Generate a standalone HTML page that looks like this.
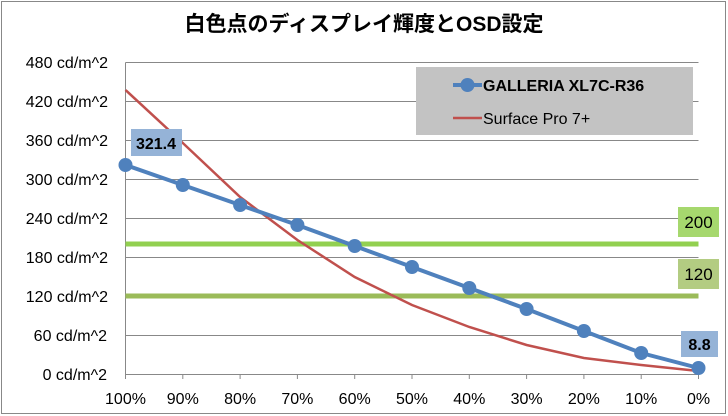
<!DOCTYPE html>
<html><head><meta charset="utf-8"><style>
body{margin:0;background:#fff}
svg{display:block}
text{font-family:"Liberation Sans","Noto Sans CJK JP",sans-serif}
</style></head><body>
<svg width="728" height="416" viewBox="0 0 728 416">
<rect x="1.5" y="1.5" width="724" height="412" fill="#fff" stroke="#888" stroke-width="1"/>
<text x="364" y="31" text-anchor="middle" font-size="21" font-weight="bold" fill="#000">白色点のディスプレイ輝度とOSD設定</text>
<g stroke="#888" stroke-width="1">
<line x1="125.5" y1="62.5" x2="698.5" y2="62.5"/>
<line x1="125.5" y1="101.5" x2="698.5" y2="101.5"/>
<line x1="125.5" y1="140.5" x2="698.5" y2="140.5"/>
<line x1="125.5" y1="179.5" x2="698.5" y2="179.5"/>
<line x1="125.5" y1="218.5" x2="698.5" y2="218.5"/>
<line x1="125.5" y1="257.5" x2="698.5" y2="257.5"/>
<line x1="125.5" y1="296.5" x2="698.5" y2="296.5"/>
<line x1="125.5" y1="335.5" x2="698.5" y2="335.5"/>
<line x1="125.5" y1="374.5" x2="698.5" y2="374.5"/>
<line x1="125.5" y1="62.5" x2="125.5" y2="379"/>
<line x1="182.8" y1="374" x2="182.8" y2="379"/><line x1="240.1" y1="374" x2="240.1" y2="379"/>
<line x1="297.4" y1="374" x2="297.4" y2="379"/><line x1="354.7" y1="374" x2="354.7" y2="379"/>
<line x1="412" y1="374" x2="412" y2="379"/><line x1="469.3" y1="374" x2="469.3" y2="379"/>
<line x1="526.6" y1="374" x2="526.6" y2="379"/><line x1="583.9" y1="374" x2="583.9" y2="379"/>
<line x1="641.2" y1="374" x2="641.2" y2="379"/><line x1="698.5" y1="374" x2="698.5" y2="379"/>
</g>
<g font-size="16" fill="#000" text-anchor="end">
<text x="108" y="68">480 cd/m^2</text><text x="108" y="107">420 cd/m^2</text>
<text x="108" y="146">360 cd/m^2</text><text x="108" y="185">300 cd/m^2</text>
<text x="108" y="224">240 cd/m^2</text><text x="108" y="263">180 cd/m^2</text>
<text x="108" y="302">120 cd/m^2</text><text x="107" y="341">60 cd/m^2</text>
<text x="107" y="380">0 cd/m^2</text>
</g>
<g font-size="16" fill="#000" text-anchor="middle">
<text x="125.5" y="404">100%</text><text x="182.8" y="404">90%</text><text x="240.1" y="404">80%</text>
<text x="297.4" y="404">70%</text><text x="354.7" y="404">60%</text><text x="412" y="404">50%</text>
<text x="469.3" y="404">40%</text><text x="526.6" y="404">30%</text><text x="583.9" y="404">20%</text>
<text x="641.2" y="404">10%</text><text x="698.5" y="404">0%</text>
</g>
<line x1="125.5" y1="244" x2="698.5" y2="244" stroke="#92d050" stroke-width="5"/>
<line x1="125.5" y1="296" x2="698.5" y2="296" stroke="#9bbb59" stroke-width="5"/>
<polyline fill="none" stroke="#c0504d" stroke-width="2.5" points="125.5,90 182.8,143 240.1,197 297.4,240 354.7,277 412,305 469.3,327 526.6,345 583.9,358 641.2,365 698.5,371"/>
<polyline fill="none" stroke="#4f81bd" stroke-width="4" points="125.5,165 182.8,185 240.1,205 297.4,225 354.7,246 412,267 469.3,288 526.6,309 583.9,331 641.2,353 698.5,368"/>
<g fill="#4f81bd">
<circle cx="125.5" cy="165" r="7"/><circle cx="182.8" cy="185" r="7"/><circle cx="240.1" cy="205" r="7"/>
<circle cx="297.4" cy="225" r="7"/><circle cx="354.7" cy="246" r="7"/><circle cx="412" cy="267" r="7"/>
<circle cx="469.3" cy="288" r="7"/><circle cx="526.6" cy="309" r="7"/><circle cx="583.9" cy="331" r="7"/>
<circle cx="641.2" cy="353" r="7"/><circle cx="698.5" cy="368" r="7"/>
</g>
<rect x="131" y="129" width="51" height="27" fill="#95b3d7"/>
<text x="156" y="149" text-anchor="middle" font-size="16" font-weight="bold">321.4</text>
<rect x="681" y="331" width="37" height="26" fill="#95b3d7"/>
<text x="699.5" y="350" text-anchor="middle" font-size="16" font-weight="bold">8.8</text>
<rect x="678" y="207" width="41" height="30" fill="#a6d86e"/>
<text x="698.5" y="228" text-anchor="middle" font-size="17">200</text>
<rect x="678" y="259" width="41" height="30" fill="#b3cc82"/>
<text x="698.5" y="280" text-anchor="middle" font-size="17">120</text>
<rect x="416" y="67" width="277" height="68" fill="#c3c3c3"/>
<line x1="453" y1="85" x2="482" y2="85" stroke="#4f81bd" stroke-width="4"/>
<circle cx="467.5" cy="85" r="7" fill="#4f81bd"/>
<text x="483" y="91" font-size="16" font-weight="bold">GALLERIA XL7C-R36</text>
<line x1="453" y1="118" x2="482" y2="118" stroke="#c0504d" stroke-width="2.5"/>
<text x="483" y="124" font-size="16">Surface Pro 7+</text>
</svg>
</body></html>
